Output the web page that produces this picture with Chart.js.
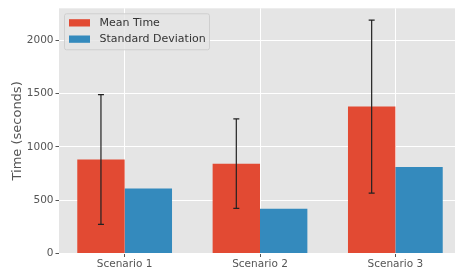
<!DOCTYPE html>
<html>
<head>
<meta charset="utf-8">
<script src="https://cdn.jsdelivr.net/npm/chart.js@4"></script>
<style>
  html, body { margin: 0; padding: 0; background: #fff; overflow: hidden; }
  #wrap { width: 461px; height: 270px; }
</style>
</head>
<body>
<div id="wrap"><canvas id="chart"></canvas></div>
<script>
// data
const scenarios = ['Scenario 1', 'Scenario 2', 'Scenario 3'];
const meanTime = [882, 843, 1378];
const stdDev = [609, 420, 811];
const yTicks = [0, 500, 1000, 1500, 2000];

const FONT = "'DejaVu Sans', sans-serif";

// gray ggplot panel behind everything
const panelBg = {
    id: 'panelBg',
    beforeDraw(chart) {
        const { ctx, chartArea: a } = chart;
        ctx.save();
        ctx.fillStyle = '#E5E5E5';
        ctx.fillRect(a.left, a.top, a.right - a.left, a.bottom - a.top);
        ctx.restore();
    }
};

// error bars on the mean bars (mean +/- std)
const errorBars = {
    id: 'errorBars',
    afterDatasetsDraw(chart) {
        const { ctx } = chart;
        const y = chart.scales.y;
        const meta = chart.getDatasetMeta(0);
        ctx.save();
        ctx.strokeStyle = '#222';
        ctx.lineWidth = 1.2;
        meta.data.forEach((bar, i) => {
            const top = y.getPixelForValue(meanTime[i] + stdDev[i]);
            const bot = y.getPixelForValue(meanTime[i] - stdDev[i]);
            ctx.beginPath();
            ctx.moveTo(bar.x, top); ctx.lineTo(bar.x, bot);
            ctx.moveTo(bar.x - 3, top); ctx.lineTo(bar.x + 3, top);
            ctx.moveTo(bar.x - 3, bot); ctx.lineTo(bar.x + 3, bot);
            ctx.stroke();
        });
        ctx.restore();
    }
};

// matplotlib style legend inside the top-left of the panel
const innerLegend = {
    id: 'innerLegend',
    afterDraw(chart) {
        const { ctx, chartArea: a } = chart;
        const x0 = a.left + 5, y0 = a.top + 5;
        ctx.save();
        ctx.fillStyle = 'rgba(229,229,229,0.8)';
        ctx.strokeStyle = '#CFCFCF';
        ctx.lineWidth = 1;
        ctx.beginPath();
        ctx.roundRect(x0 + 0.5, y0 + 0.5, 145, 36, 2);
        ctx.fill();
        ctx.stroke();
        ctx.font = '11px ' + FONT;
        ctx.textBaseline = 'middle';
        chart.data.datasets.forEach((ds, i) => {
            const cy = y0 + 9.5 + i * 16.3;
            ctx.fillStyle = ds.backgroundColor;
            ctx.fillRect(x0 + 5, cy - 3.6, 21, 7.3);
            ctx.fillStyle = '#333';
            ctx.fillText(ds.label, x0 + 35.5, cy);
        });
        ctx.restore();
    }
};

new Chart(document.getElementById('chart'), {
    type: 'bar',
    data: {
        datasets: [
            {
                label: 'Mean Time',
                data: meanTime.map((v, i) => ({ x: i, y: v })),
                backgroundColor: '#E24A33'
            },
            {
                label: 'Standard Deviation',
                data: stdDev.map((v, i) => ({ x: i, y: v })),
                backgroundColor: '#348ABD'
            }
        ]
    },
    options: {
        responsive: true,
        maintainAspectRatio: false,
        animation: false,
        devicePixelRatio: 1,
        categoryPercentage: 0.7,
        barPercentage: 1.0,
        layout: { padding: { top: 7, right: 0, left: 0, bottom: 0 } },
        plugins: {
            legend: { display: false },
            tooltip: { enabled: false }
        },
        scales: {
            x: {
                type: 'linear',
                offset: false,
                min: -0.485,
                max: 2.485,
                afterBuildTicks(scale) {
                    scale.ticks = scenarios.map((s, i) => ({ value: i }));
                },
                afterFit(scale) { scale.height = 16.5; },
                ticks: {
                    callback: (v) => scenarios[v],
                    color: '#555',
                    font: { family: FONT, size: 10.5 },
                    padding: 1,
                    maxRotation: 0
                },
                grid: { color: '#FFFFFF', lineWidth: 1, tickColor: '#555', tickLength: 3.5, offset: false },
                border: { display: false }
            },
            y: {
                min: 0,
                max: 2300,
                afterBuildTicks(scale) {
                    scale.ticks = yTicks.map(v => ({ value: v }));
                },
                afterFit(scale) { scale.width = 59; },
                ticks: {
                    callback: (v) => String(v),
                    color: '#555',
                    font: { family: FONT, size: 10.5 },
                    padding: 2
                },
                title: {
                    display: true,
                    text: 'Time (seconds)',
                    color: '#555',
                    font: { family: FONT, size: 13 },
                    padding: { top: 10, bottom: 0 }
                },
                grid: { color: '#FFFFFF', lineWidth: 1, tickColor: '#555', tickLength: 3.5 },
                border: { display: false }
            }
        }
    },
    plugins: [panelBg, errorBars, innerLegend]
});
</script>
</body>
</html>
